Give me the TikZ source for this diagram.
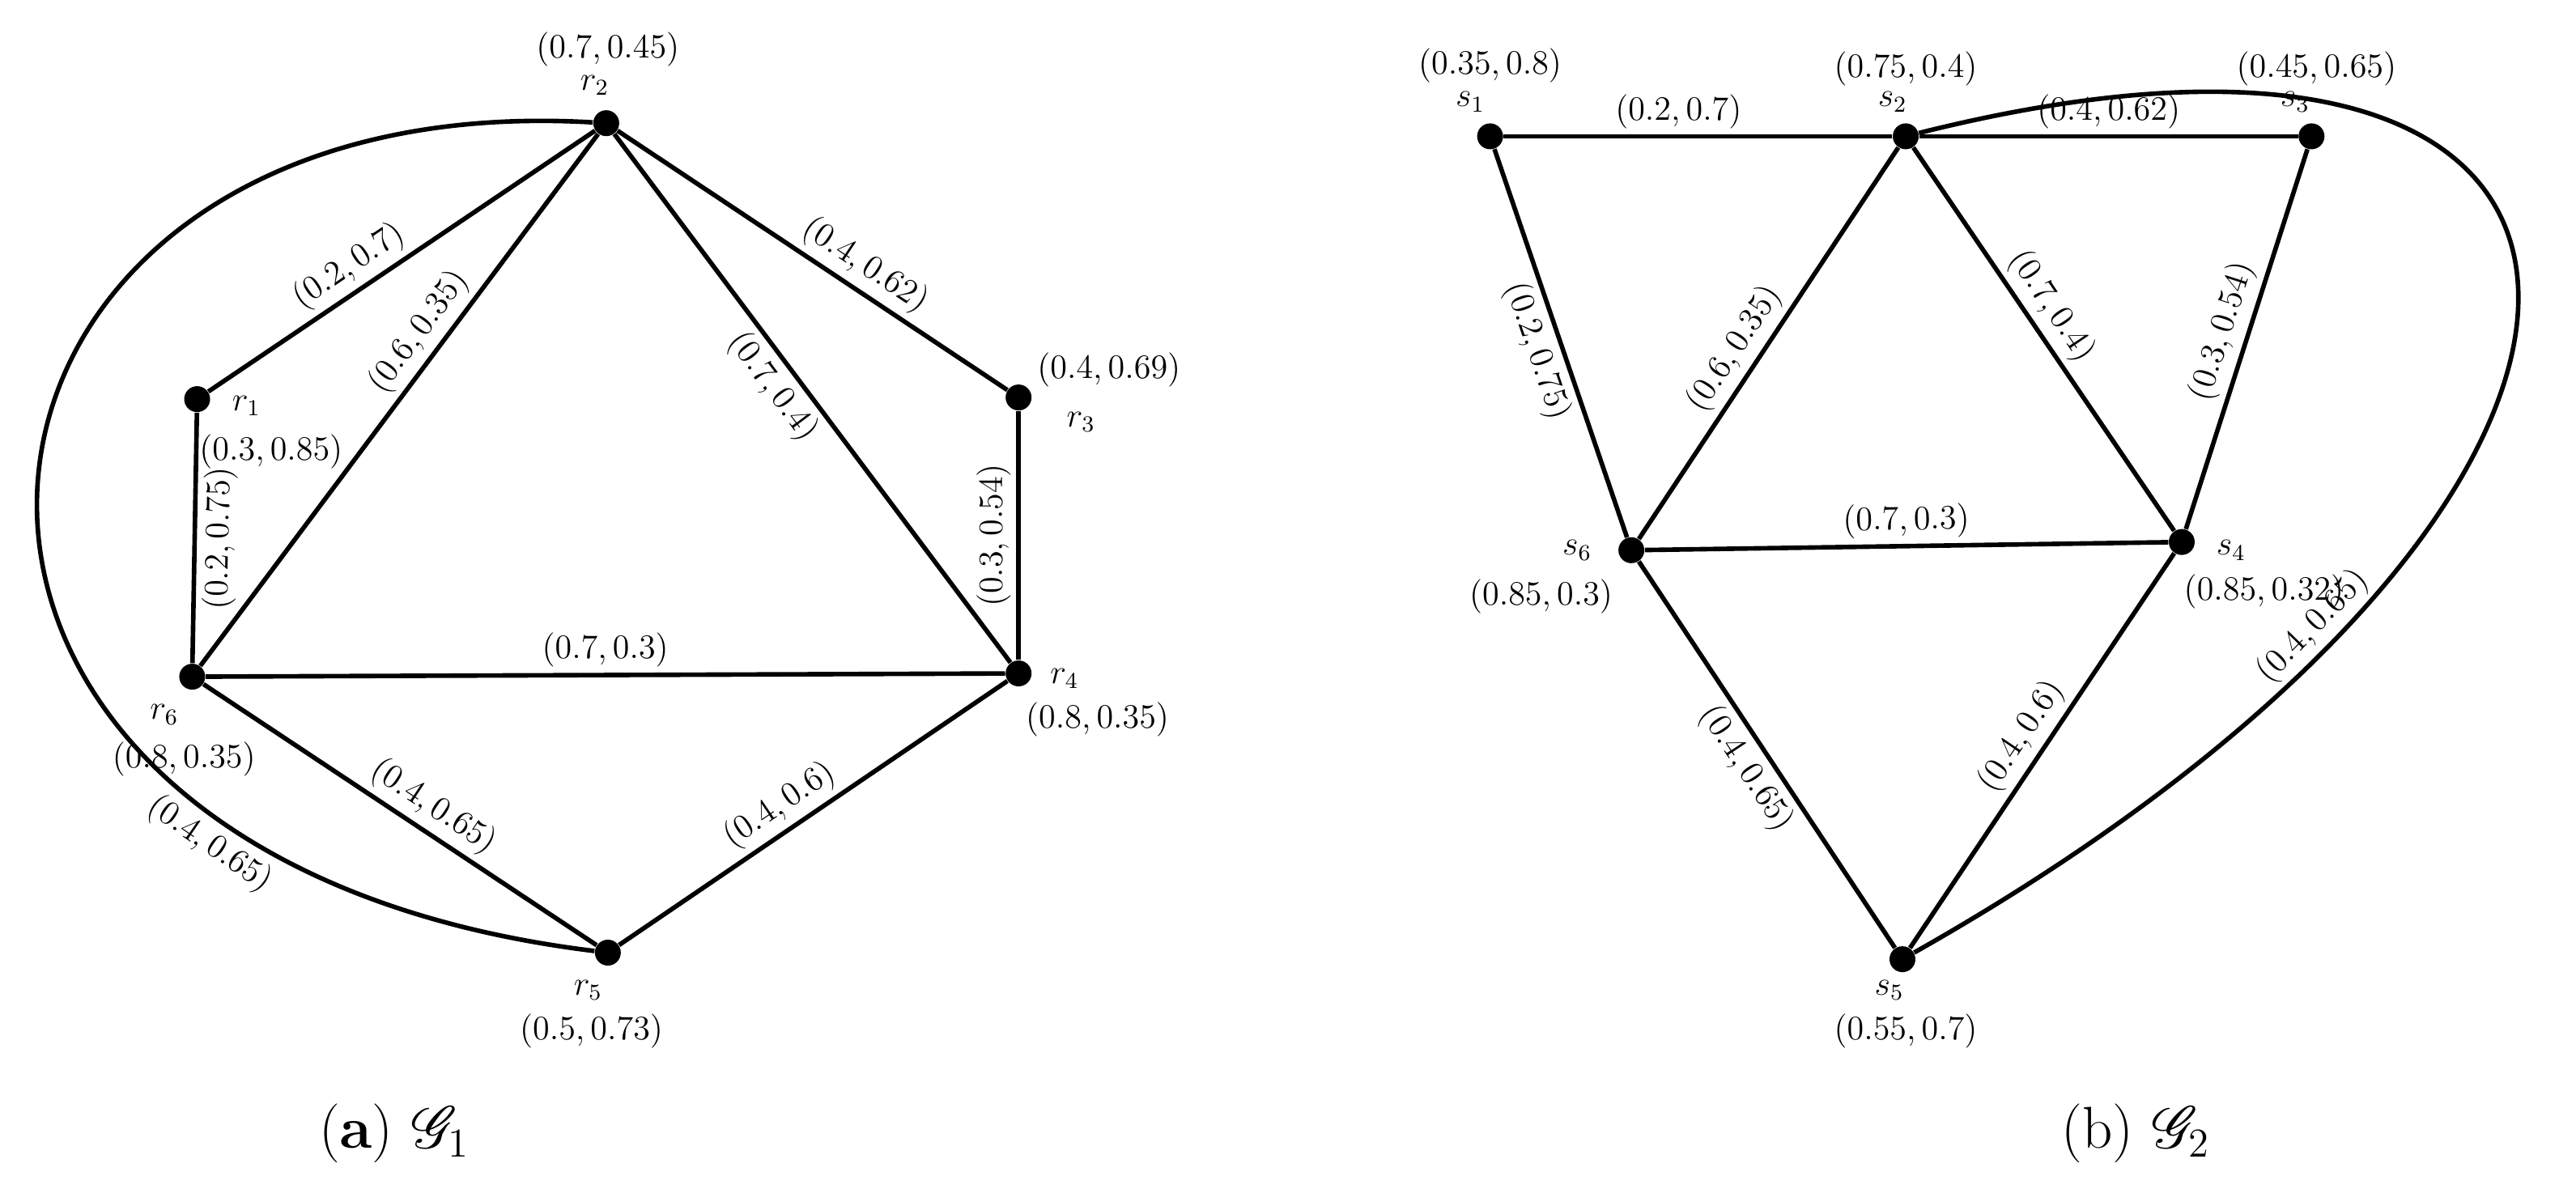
\documentclass[tikz,border=0pt]{standalone}
\usepackage{amsmath,mathrsfs}
\begin{document}
\begin{tikzpicture}[x=0.2029mm,y=-0.2029mm,
 dot/.style={circle,fill=black,inner sep=0pt,minimum size=3.2mm},
 ed/.style={line width=1.6pt},
 el/.style={font=\fontsize{12}{14}\selectfont,sloped,inner sep=2pt},
 nl/.style={font=\fontsize{12}{14}\selectfont,inner sep=0pt},
 captxt/.style={font=\fontsize{22}{26}\selectfont}]
\useasboundingbox (0,0) rectangle (1568,726);
% G1
\node[dot] (r2) at (369,75) {};
\node[dot] (r1) at (120,243) {};
\node[dot] (r3) at (620,242) {};
\node[dot] (r6) at (117,412) {};
\node[dot] (r4) at (620,410) {};
\node[dot] (r5) at (370,580) {};
\draw[ed] (r1) -- node[el,above,pos=0.4]{$(0.2,0.7)$} (r2);
\draw[ed] (r6) -- node[el,above,pos=0.6]{$(0.6,0.35)$} (r2);
\draw[ed] (r2) -- node[el,below,pos=0.45]{$(0.7,0.4)$} (r4);
\draw[ed] (r2) -- node[el,above,pos=0.6]{$(0.4,0.62)$} (r3);
\draw[ed] (r4) -- node[el,above,pos=0.5]{$(0.3,0.54)$} (r3);
\draw[ed] (r1) -- node[el,below,pos=0.5]{$(0.2,0.75)$} (r6);
\draw[ed] (r6) -- node[el,above,pos=0.5]{$(0.7,0.3)$} (r4);
\draw[ed] (r6) -- node[el,above,pos=0.55]{$(0.4,0.65)$} (r5);
\draw[ed] (r5) -- node[el,above,pos=0.45]{$(0.4,0.6)$} (r4);
\draw[ed] (r2) .. controls (-60,50) and (-120,520) .. node[el,below,pos=0.8]{$(0.4,0.65)$} (r5);
\node[nl] (r2a) at (370,30) {$(0.7,0.45)$};
\node[nl] (r2b) at (362,52) {$r_2$};
\node[nl] (r1b) at (150,247) {$r_1$};
\node[nl] (r1a) at (165,275) {$(0.3,0.85)$};
\node[nl] (r3a) at (675,225) {$(0.4,0.69)$};
\node[nl] (r3b) at (658,257) {$r_3$};
\node[nl] (r6b) at (100,435) {$r_6$};
\node[nl] (r6a) at (112,462) {$(0.8,0.35)$};
\node[nl] (r4b) at (648,413) {$r_4$};
\node[nl] (r4a) at (668,438) {$(0.8,0.35)$};
\node[nl] (r5b) at (358,603) {$r_5$};
\node[nl] (r5a) at (360,628) {$(0.5,0.73)$};
% G2
\node[dot] (s1) at (907,83) {};
\node[dot] (s2) at (1160,83) {};
\node[dot] (s3) at (1407,83) {};
\node[dot] (s6) at (993,335) {};
\node[dot] (s4) at (1328,330) {};
\node[dot] (s5) at (1158,584) {};
\draw[ed] (s1) -- node[el,above,pos=0.45]{$(0.2,0.7)$} (s2);
\draw[ed] (s2) -- node[el,above,pos=0.5]{$(0.4,0.62)$} (s3);
\draw[ed] (s1) -- node[el,below,pos=0.5]{$(0.2,0.75)$} (s6);
\draw[ed] (s6) -- node[el,above,pos=0.45]{$(0.6,0.35)$} (s2);
\draw[ed] (s2) -- node[el,above,pos=0.45]{$(0.7,0.4)$} (s4);
\draw[ed] (s4) -- node[el,above,pos=0.5]{$(0.3,0.54)$} (s3);
\draw[ed] (s6) -- node[el,above,pos=0.5]{$(0.7,0.3)$} (s4);
\draw[ed] (s6) -- node[el,below,pos=0.5]{$(0.4,0.65)$} (s5);
\draw[ed] (s5) -- node[el,above,pos=0.5]{$(0.4,0.6)$} (s4);
\draw[ed] (s2) .. controls (1650,-40) and (1660,300) .. node[el,above,pos=0.78]{$(0.4,0.65)$} (s5);
\node[nl] (s1a) at (907,40) {$(0.35,0.8)$};
\node[nl] (s1b) at (895,62) {$s_1$};
\node[nl] (s2a) at (1160,42) {$(0.75,0.4)$};
\node[nl] (s2b) at (1152,62) {$s_2$};
\node[nl] (s3a) at (1410,42) {$(0.45,0.65)$};
\node[nl] (s3b) at (1397,62) {$s_3$};
\node[nl] (s6b) at (960,335) {$s_6$};
\node[nl] (s6a) at (938,363) {$(0.85,0.3)$};
\node[nl] (s4b) at (1358,335) {$s_4$};
\node[nl] (s4a) at (1378,360) {$(0.85,0.32)$};
\node[nl] (s5b) at (1150,603) {$s_5$};
\node[nl] (s5a) at (1160,628) {$(0.55,0.7)$};
\node[captxt] (ca) at (240,690) {$(\mathbf{a})$ $\mathscr{G}_1$};
\node[captxt] (cb) at (1300,690) {$(\mathrm{b})$ $\mathscr{G}_2$};
\end{tikzpicture}
\end{document}
